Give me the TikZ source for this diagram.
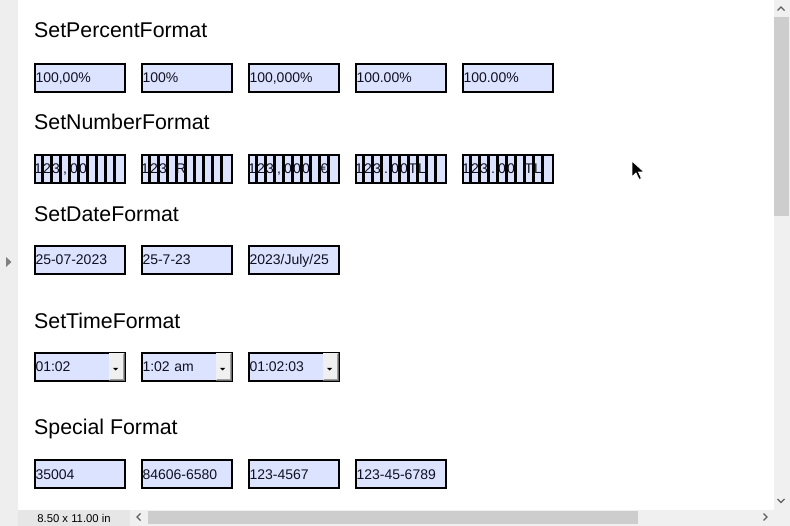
\documentclass[tikz,border=0pt]{standalone}
\usepackage{fontspec}
\setmainfont{Liberation Sans}
\definecolor{fieldblue}{HTML}{DCE3FF}
\definecolor{sidegray}{HTML}{EEEEEE}
\definecolor{statgray}{HTML}{E6E6E6}
\definecolor{scrollbg}{HTML}{F0F0F0}
\definecolor{thumbgray}{HTML}{CDCDCD}
\definecolor{arrowgray}{HTML}{606060}
\definecolor{btngray}{HTML}{F0F0F0}
\definecolor{btnshadow}{HTML}{696969}
\definecolor{btnmid}{HTML}{A0A0A0}
\definecolor{txt}{HTML}{101020}
\begin{document}
\begin{tikzpicture}[x=1pt,y=-1pt,
  heading/.style={anchor=base west,inner sep=0pt,font=\fontsize{21.33}{24}\selectfont},
  field/.style={draw=black,line width=2pt,fill=fieldblue,minimum width=90pt,minimum height=28pt,
    inner xsep=1pt,inner ysep=0pt,anchor=north west,text width=88pt,align=left,
    text height=10pt,text depth=0pt,text=txt,font=\fontsize{14}{16}\selectfont},
  combfield/.style={draw=black,line width=2pt,fill=fieldblue,minimum width=90pt,minimum height=28pt,
    inner sep=0pt,anchor=north west},
  combline/.style={draw=black,line width=2.2pt},
  combchar/.style={anchor=base,inner sep=0pt,text=txt,font=\fontsize{14}{16}\selectfont},
  chev/.style={draw=arrowgray,line width=1.3pt},
  status/.style={anchor=center,inner sep=0pt,font=\fontsize{11.3}{13}\selectfont}
]
\useasboundingbox (0,0) rectangle (790,526);
% frame
\fill[white] (0,0) rectangle (790,526);
\fill[sidegray] (0,0) rectangle (18,526);
\fill[scrollbg] (774,0) rectangle (790,526);
\fill[thumbgray] (774,17) rectangle (789,216);
\fill[scrollbg] (18,510) rectangle (790,526);
\fill[statgray] (18,510) rectangle (130,526);
\fill[thumbgray] (148,511) rectangle (638,524);
\fill[arrowgray!80] (6,257) -- (11.5,262) -- (6,267) -- cycle;
\draw[chev] (777.5,10.5) -- (781,7) -- (784.5,10.5);
\draw[chev] (777.5,499) -- (781,502.5) -- (784.5,499);
\draw[chev] (140.5,513.5) -- (137,517) -- (140.5,520.5);
\draw[chev] (763.5,513.5) -- (767,517) -- (763.5,520.5);
\node[status] (stat) at (74,518) {8.50 x 11.00 in};

% headings
\node[heading] (h1) at (34,38) {SetPercentFormat};
\node[heading] (h2) at (34,130) {SetNumberFormat};
\node[heading] (h3) at (34,222) {SetDateFormat};
\node[heading] (h4) at (34,329) {SetTimeFormat};
\node[heading] (h5) at (34,435) {Special Format};

% percent row
\node[field] (p1) at (33.5,63) {100,00\%};
\node[field] (p2) at (140.5,63) {100\%};
\node[field] (p3) at (247.5,63) {100,000\%};
\node[field] (p4) at (354.5,63) {100.00\%};
\node[field] (p5) at (461.5,63) {100.00\%};

% number row (comb fields)
\foreach \n/\xx/\chars in {n1/33.5/{1,2,3,{,},0,0},
                           n2/140.5/{1,2,3,{},R},
                           n3/247.5/{1,2,3,{,},0,0,0,{},€},
                           n4/354.5/{1,2,3,.,0,0,T,L},
                           n5/461.5/{1,2,3,.,0,0,{},T,L}}{
  \node[combfield] (\n) at (\xx,154) {};
  \foreach \k in {1,...,9}
    \draw[combline] ([xshift=\k*9pt]\n.north west) -- ([xshift=\k*9pt]\n.south west);
  \foreach \c [count=\i] in \chars
    \node[combchar] (\n-\i) at ([xshift=(\i-0.5)*9pt,yshift=-5pt]\n.west) {\c};
}

% date row
\node[field] (d1) at (33.5,245) {25-07-2023};
\node[field] (d2) at (140.5,245) {25-7-23};
\node[field] (d3) at (247.5,245) {2023/July/25};

% time row
\foreach \n/\xx/\t in {t1/33.5/01:02, t2/140.5/1:02 am, t3/247.5/01:02:03}{
  \node[field] (\n) at (\xx,352) {\t};
  \fill[btngray] ([xshift=-17pt,yshift=-1pt]\n.north east) rectangle ([xshift=-2pt,yshift=1pt]\n.south east);
  \draw[btnshadow,line width=1pt] ([xshift=-17pt,yshift=1.5pt]\n.south east) -- ([xshift=-1.5pt,yshift=1.5pt]\n.south east) -- ([xshift=-1.5pt,yshift=-1pt]\n.north east);
  \draw[btnmid,line width=1pt] ([xshift=-16pt,yshift=2.5pt]\n.south east) -- ([xshift=-2.5pt,yshift=2.5pt]\n.south east) -- ([xshift=-2.5pt,yshift=-2pt]\n.north east);
  \fill[black] ([xshift=-12.5pt,yshift=-1pt]\n.east) -- ([xshift=-7.5pt,yshift=-1pt]\n.east) -- ([xshift=-10pt,yshift=-3.5pt]\n.east) -- cycle;
}

% special row
\node[field] (s1) at (33.5,459) {35004};
\node[field] (s2) at (140.5,459) {84606-6580};
\node[field] (s3) at (247.5,459) {123-4567};
\node[field] (s4) at (354.5,459) {123-45-6789};

% mouse cursor
\filldraw[fill=black,draw=white,line width=0.8pt] (632,161) -- (632,177) -- (636,173) -- (639,179.5) -- (641.5,178.5) -- (638.5,172) -- (644,172) -- cycle;
\end{tikzpicture}
\end{document}
